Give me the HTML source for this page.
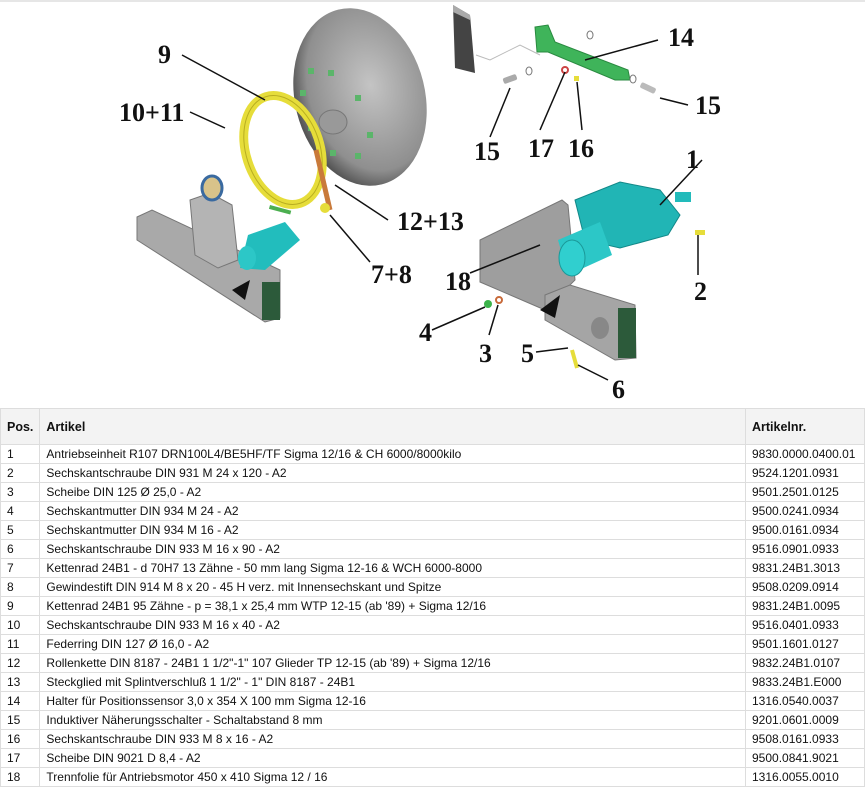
<!DOCTYPE html>
<html><head><meta charset="utf-8"><style>
body{margin:0;width:865px;height:789px;background:#fff;overflow:hidden;font-family:"Liberation Sans",sans-serif}
svg{position:absolute;left:0;top:0}
.l{font-family:"Liberation Serif",serif;font-weight:bold;font-size:26px;fill:#111}
table{position:absolute;left:0;top:408px;width:865px;border-collapse:collapse;font-size:12px;color:#111}
td,th{border:1px solid #ddd;padding:0 6px;height:18px;text-align:left;white-space:nowrap}
th{height:35px;font-weight:bold;font-size:12.5px;background:#f3f3f3}
td:first-child,th:first-child{width:24px}
td:last-child,th:last-child{width:106px}
</style></head><body>
<svg width="865" height="405" viewBox="0 0 865 405">
<defs>
<radialGradient id="dg" cx="0.6" cy="0.45" r="0.6"><stop offset="0" stop-color="#c4c4c4"/><stop offset="0.8" stop-color="#8f8f8f"/><stop offset="1" stop-color="#555"/></radialGradient>
</defs>
<line x1="0" y1="1" x2="865" y2="1" stroke="#ccc"/>
<ellipse cx="360" cy="97" rx="65" ry="90" transform="rotate(-14 360 97)" fill="url(#dg)"/>
<ellipse cx="333" cy="122" rx="14" ry="12" fill="#999" stroke="#777"/>
<g fill="#5bb56a"><rect x="308" y="68" width="6" height="6"/><rect x="328" y="70" width="6" height="6"/><rect x="355" y="95" width="6" height="6"/><rect x="367" y="132" width="6" height="6"/><rect x="355" y="153" width="6" height="6"/><rect x="330" y="150" width="6" height="6"/><rect x="300" y="90" width="6" height="6"/><rect x="308" y="125" width="6" height="6"/></g>
<ellipse cx="283" cy="150" rx="37" ry="56" transform="rotate(-18 283 150)" fill="none" stroke="#e6dd3a" stroke-width="9"/>
<ellipse cx="283" cy="150" rx="37" ry="56" transform="rotate(-18 283 150)" fill="none" stroke="#b8ad20" stroke-width="1"/>
<line x1="316" y1="150" x2="330" y2="210" stroke="#c97a3a" stroke-width="5"/>
<circle cx="325" cy="208" r="5" fill="#e6dd3a"/>
<polygon points="137,217 152,210 280,270 280,318 265,322 137,240" fill="#a9a9a9" stroke="#777"/>
<polygon points="190,200 210,193 232,205 238,260 218,268 195,255" fill="#b4b4b4" stroke="#777"/>
<rect x="262" y="282" width="18" height="38" fill="#2c5a3a"/>
<ellipse cx="212" cy="188" rx="10" ry="12" fill="#d8c38a" stroke="#3a6aa0" stroke-width="3"/>
<polygon points="248,235 285,222 300,240 265,270 240,268" fill="#22bdbd"/>
<ellipse cx="247" cy="258" rx="9" ry="12" fill="#2cc7c7"/>
<rect x="270" y="205" width="22" height="4" fill="#4caf50" transform="rotate(15 270 205)"/>
<polygon points="232,290 250,280 245,300" fill="#111"/>
<polygon points="453,5 470,15 475,73 455,68" fill="#444"/>
<polygon points="453,5 470,15 470,20 453,12" fill="#aaa"/>
<polygon points="535,27 548,25 555,42 628,70 630,80 615,80 548,52 537,52" fill="#3fb45a" stroke="#2a8a40"/>
<polyline points="476,55 490,60 520,45 540,55" fill="none" stroke="#bbb"/>
<rect x="503" y="76" width="14" height="6" rx="2" fill="#aaa" transform="rotate(-20 510 79)"/>
<rect x="640" y="85" width="16" height="6" rx="2" fill="#bbb" transform="rotate(25 648 88)"/>
<circle cx="565" cy="70" r="3" fill="none" stroke="#c44" stroke-width="2"/>
<rect x="574" y="76" width="5" height="5" fill="#e6dd3a"/>
<ellipse cx="529" cy="71" rx="3" ry="4" fill="none" stroke="#777"/>
<ellipse cx="590" cy="35" rx="3" ry="4" fill="none" stroke="#777"/>
<ellipse cx="633" cy="79" rx="3" ry="4" fill="none" stroke="#777"/>
<polygon points="480,240 562,200 568,205 575,280 545,310 480,282" fill="#9e9e9e" stroke="#777"/>
<polygon points="545,295 570,285 635,305 636,358 615,360 545,320" fill="#a5a5a5" stroke="#777"/>
<rect x="618" y="308" width="18" height="50" fill="#2c5a3a"/>
<ellipse cx="600" cy="328" rx="9" ry="11" fill="#888"/>
<polygon points="540,310 560,295 555,318" fill="#111"/>
<polygon points="575,200 620,182 660,190 680,215 668,235 620,248 585,240" fill="#21b5b5" stroke="#128888"/>
<rect x="675" y="192" width="16" height="10" fill="#22bbbb"/>
<polygon points="558,240 600,222 612,255 568,275" fill="#2cc7c7"/>
<ellipse cx="572" cy="258" rx="13" ry="18" fill="#30cfcf" stroke="#1a9999"/>
<circle cx="488" cy="304" r="4" fill="#3bb34a"/>
<circle cx="499" cy="300" r="3" fill="none" stroke="#c86a3a" stroke-width="2"/>
<rect x="695" y="230" width="10" height="5" fill="#e6dd3a"/>
<line x1="572" y1="350" x2="577" y2="368" stroke="#e6dd3a" stroke-width="4"/>
<g stroke="#111" stroke-width="1.5" fill="none">
<line x1="182" y1="55" x2="265" y2="100"/>
<line x1="190" y1="112" x2="225" y2="128"/>
<line x1="335" y1="185" x2="388" y2="220"/>
<line x1="330" y1="215" x2="370" y2="262"/>
<line x1="470" y1="273" x2="540" y2="245"/>
<line x1="658" y1="40" x2="585" y2="60"/>
<line x1="490" y1="137" x2="510" y2="88"/>
<line x1="540" y1="130" x2="565" y2="72"/>
<line x1="582" y1="130" x2="577" y2="82"/>
<line x1="688" y1="105" x2="660" y2="98"/>
<line x1="702" y1="160" x2="660" y2="205"/>
<line x1="698" y1="275" x2="698" y2="235"/>
<line x1="432" y1="330" x2="485" y2="307"/>
<line x1="489" y1="335" x2="498" y2="305"/>
<line x1="536" y1="352" x2="568" y2="348"/>
<line x1="608" y1="380" x2="578" y2="365"/>
</g>
<text class="l" x="158" y="63">9</text>
<text class="l" x="119" y="121">10+11</text>
<text class="l" x="397" y="230">12+13</text>
<text class="l" x="371" y="283">7+8</text>
<text class="l" x="445" y="290">18</text>
<text class="l" x="668" y="46">14</text>
<text class="l" x="474" y="160">15</text>
<text class="l" x="528" y="157">17</text>
<text class="l" x="568" y="157">16</text>
<text class="l" x="695" y="114">15</text>
<text class="l" x="686" y="168">1</text>
<text class="l" x="694" y="300">2</text>
<text class="l" x="419" y="341">4</text>
<text class="l" x="479" y="362">3</text>
<text class="l" x="521" y="362">5</text>
<text class="l" x="612" y="398">6</text>
</svg>
<table>
<tr><th>Pos.</th><th>Artikel</th><th>Artikelnr.</th></tr>
<tr><td>1</td><td>Antriebseinheit R107 DRN100L4/BE5HF/TF Sigma 12/16 &amp; CH 6000/8000kilo</td><td>9830.0000.0400.01</td></tr>
<tr><td>2</td><td>Sechskantschraube DIN 931 M 24 x 120 - A2</td><td>9524.1201.0931</td></tr>
<tr><td>3</td><td>Scheibe DIN 125 Ø 25,0 - A2</td><td>9501.2501.0125</td></tr>
<tr><td>4</td><td>Sechskantmutter DIN 934 M 24 - A2</td><td>9500.0241.0934</td></tr>
<tr><td>5</td><td>Sechskantmutter DIN 934 M 16 - A2</td><td>9500.0161.0934</td></tr>
<tr><td>6</td><td>Sechskantschraube DIN 933 M 16 x 90 - A2</td><td>9516.0901.0933</td></tr>
<tr><td>7</td><td>Kettenrad 24B1 - d 70H7 13 Zähne - 50 mm lang Sigma 12-16 &amp; WCH 6000-8000</td><td>9831.24B1.3013</td></tr>
<tr><td>8</td><td>Gewindestift DIN 914 M 8 x 20 - 45 H verz. mit Innensechskant und Spitze</td><td>9508.0209.0914</td></tr>
<tr><td>9</td><td>Kettenrad 24B1 95 Zähne - p = 38,1 x 25,4 mm WTP 12-15 (ab '89) + Sigma 12/16</td><td>9831.24B1.0095</td></tr>
<tr><td>10</td><td>Sechskantschraube DIN 933 M 16 x 40 - A2</td><td>9516.0401.0933</td></tr>
<tr><td>11</td><td>Federring DIN 127 Ø 16,0 - A2</td><td>9501.1601.0127</td></tr>
<tr><td>12</td><td>Rollenkette DIN 8187 - 24B1 1 1/2"-1" 107 Glieder TP 12-15 (ab '89) + Sigma 12/16</td><td>9832.24B1.0107</td></tr>
<tr><td>13</td><td>Steckglied mit Splintverschluß 1 1/2" - 1" DIN 8187 - 24B1</td><td>9833.24B1.E000</td></tr>
<tr><td>14</td><td>Halter für Positionssensor 3,0 x 354 X 100 mm Sigma 12-16</td><td>1316.0540.0037</td></tr>
<tr><td>15</td><td>Induktiver Näherungsschalter - Schaltabstand 8 mm</td><td>9201.0601.0009</td></tr>
<tr><td>16</td><td>Sechskantschraube DIN 933 M 8 x 16 - A2</td><td>9508.0161.0933</td></tr>
<tr><td>17</td><td>Scheibe DIN 9021 D 8,4 - A2</td><td>9500.0841.9021</td></tr>
<tr><td>18</td><td>Trennfolie für Antriebsmotor 450 x 410 Sigma 12 / 16</td><td>1316.0055.0010</td></tr>
</table>
</body></html>
